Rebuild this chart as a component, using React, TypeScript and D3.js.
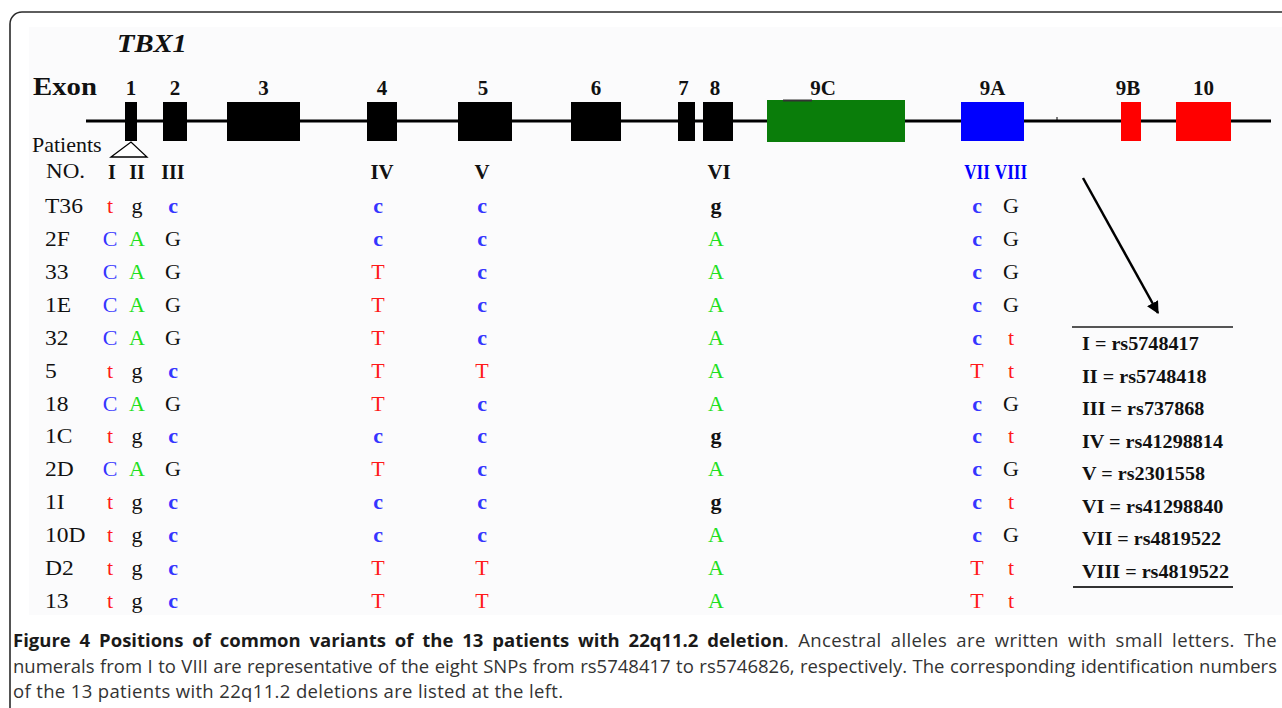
import React, { useEffect, useRef } from "react";
import * as d3 from "d3";

// patients and their alleles at the eight SNPs (I..VIII)
const patients = ["T36", "2F", "33", "1E", "32", "5", "18", "1C", "2D", "1I", "10D", "D2", "13"];
const alleles = [
  ["t", "g", "c", "c", "c", "g", "c", "G"],
  ["C", "A", "G", "c", "c", "A", "c", "G"],
  ["C", "A", "G", "T", "c", "A", "c", "G"],
  ["C", "A", "G", "T", "c", "A", "c", "G"],
  ["C", "A", "G", "T", "c", "A", "c", "t"],
  ["t", "g", "c", "T", "T", "A", "T", "t"],
  ["C", "A", "G", "T", "c", "A", "c", "G"],
  ["t", "g", "c", "c", "c", "g", "c", "t"],
  ["C", "A", "G", "T", "c", "A", "c", "G"],
  ["t", "g", "c", "c", "c", "g", "c", "t"],
  ["t", "g", "c", "c", "c", "A", "c", "G"],
  ["t", "g", "c", "T", "T", "A", "T", "t"],
  ["t", "g", "c", "T", "T", "A", "T", "t"],
];
const snps = ["I", "II", "III", "IV", "V", "VI", "VII", "VIII"];
const snpPos = [24, 51, 87, 292, 396, 630, 891, 925]; // position along gene (relative units)
const rsIds = ["rs5748417", "rs5748418", "rs737868", "rs41298814", "rs2301558", "rs41298840", "rs4819522", "rs4819522"];

// exons along the gene (relative units)
const exonNames = ["1", "2", "3", "4", "5", "6", "7", "8", "9C", "9A", "9B", "10"];
const exonStart = [39, 77, 141, 281, 372, 485, 592, 617, 681, 875, 1035, 1090];
const exonEnd = [51, 101, 214, 311, 426, 535, 609, 647, 819, 938, 1055, 1145];
const exonType = ["coding", "coding", "coding", "coding", "coding", "coding", "coding", "coding", "9C", "9A", "9B", "10"];
const geneLength = 1185;

const captionBold = "Figure 4 Positions of common variants of the 13 patients with 22q11.2 deletion";
const captionLines = [
  ". Ancestral alleles are written with small letters. The",
  "numerals from I to VIII are representative of the eight SNPs from rs5748417 to rs5746826, respectively. The corresponding identification numbers",
  "of the 13 patients with 22q11.2 deletions are listed at the left.",
];

const SERIF = "'Liberation Serif', 'Times New Roman', serif";
const SANS = "'Open Sans', 'Noto Sans', sans-serif";

const exonColor = (t: string) =>
  t === "9C" ? "#0a7d0a" : t === "9A" ? "#0000ff" : t === "9B" || t === "10" ? "#ff0000" : "#000";

const baseColor = (b: string) => {
  const u = b.toUpperCase();
  if (u === "T") return "#ff1a1a";
  if (u === "C") return "#3535ff";
  if (u === "A") return "#1fe01f";
  return "#111";
};

export default function App() {
  const ref = useRef<SVGSVGElement | null>(null);
  const W = 1282;
  const H = 708;

  useEffect(() => {
    const svg = d3.select(ref.current);
    svg.selectAll("*").remove();

    // outer frame + figure background
    svg.append("rect").attr("x", 0).attr("y", 0).attr("width", W).attr("height", H).attr("fill", "#fff");
    svg
      .append("rect")
      .attr("x", 10)
      .attr("y", 12)
      .attr("width", W + 20)
      .attr("height", H + 20)
      .attr("rx", 12)
      .attr("fill", "#fff")
      .attr("stroke", "#2a2a2a")
      .attr("stroke-width", 1.6);
    svg.append("rect").attr("x", 29).attr("y", 27).attr("width", W - 29).attr("height", 588).attr("fill", "#fbfbfc");

    const x = d3.scaleLinear().domain([0, geneLength]).range([86, 1271]);
    const y = d3.scalePoint<string>().domain(patients).range([213, 608]);
    const ly = d3.scalePoint<string>().domain(snps).range([350, 578]);

    // helper: text with horizontal stretch
    const txt = (
      tx: number,
      ty: number,
      s: string,
      size: number,
      opts: { weight?: string; style?: string; fill?: string; anchor?: string; sx?: number; family?: string } = {}
    ) =>
      svg
        .append("text")
        .attr("transform", `translate(${tx},${ty}) scale(${opts.sx ?? 1},1)`)
        .attr("font-family", opts.family ?? SERIF)
        .attr("font-size", size)
        .attr("font-weight", opts.weight ?? "normal")
        .attr("font-style", opts.style ?? "normal")
        .attr("fill", opts.fill ?? "#111")
        .attr("text-anchor", opts.anchor ?? "start")
        .text(s);

    txt(117, 52, "TBX1", 26, { weight: "bold", style: "italic", sx: 1.1 });
    txt(33, 95, "Exon", 25, { weight: "bold", sx: 1.15 });

    // gene backbone
    svg.append("line").attr("x1", x(0)).attr("x2", x(geneLength)).attr("y1", 121).attr("y2", 121).attr("stroke", "#000").attr("stroke-width", 3);
    svg.append("line").attr("x1", 1057).attr("x2", 1057).attr("y1", 117).attr("y2", 121).attr("stroke", "#000").attr("stroke-width", 1);

    // exons
    const labelShift: Record<string, number> = { "9C": -13, "7": -3, "8": -3, "9B": -3, "5": -2 };
    exonNames.forEach((name, i) => {
      const big = exonType[i] === "9C";
      svg
        .append("rect")
        .attr("x", x(exonStart[i]))
        .attr("y", big ? 100 : 102)
        .attr("width", x(exonEnd[i]) - x(exonStart[i]))
        .attr("height", big ? 42 : 39)
        .attr("fill", exonColor(exonType[i]));
      txt((x(exonStart[i]) + x(exonEnd[i])) / 2 + (labelShift[name] ?? 0), 95, name, 20, {
        weight: "bold",
        anchor: "middle",
        sx: 1.05,
      });
    });
    // small dark mark on top of 9C
    svg.append("line").attr("x1", 783).attr("x2", 812).attr("y1", 100.5).attr("y2", 100.5).attr("stroke", "#333").attr("stroke-width", 2);

    // triangle splitting exon 1 into SNP I and II
    const tri = d3.line()([
      [x(snpPos[0]) + 1, 157],
      [x(45), 142],
      [x(snpPos[1]) + 10, 157],
    ]);
    svg.append("path").attr("d", tri + "Z").attr("fill", "#fff").attr("stroke", "#000").attr("stroke-width", 1.3);

    txt(32, 152, "Patients", 22);
    txt(46, 178, "NO.", 22, { sx: 1.05 });

    // SNP column headers
    snps.forEach((s, i) => {
      const blue = i >= 6;
      const shift = i === 0 ? 2 : i === 3 ? 4 : i === 5 ? 3 : 0;
      txt(x(snpPos[i]) + shift, 179, s, i < 3 ? 21 : 22, {
        weight: "bold",
        anchor: "middle",
        fill: blue ? "#0000ff" : "#111",
        sx: blue ? 0.78 : 0.95,
      });
    });

    // patient rows
    patients.forEach((p, r) => {
      txt(45, y(p)!, p, 22, { sx: 1.07 });
      alleles[r].forEach((b, c) => {
        const bold = b === "c" || (b === "g" && c === 5);
        txt(x(snpPos[c]), y(p)!, b, 22, { anchor: "middle", fill: baseColor(b), weight: bold ? "bold" : "normal" });
      });
    });

    // arrow toward legend
    svg
      .append("defs")
      .append("marker")
      .attr("id", "ah")
      .attr("viewBox", "0 0 10 10")
      .attr("refX", 9)
      .attr("refY", 5)
      .attr("markerWidth", 5)
      .attr("markerHeight", 5)
      .attr("orient", "auto")
      .append("path")
      .attr("d", "M0,0 L10,5 L0,10 Z")
      .attr("fill", "#000");
    svg
      .append("line")
      .attr("x1", 1083)
      .attr("y1", 178)
      .attr("x2", 1158)
      .attr("y2", 313)
      .attr("stroke", "#000")
      .attr("stroke-width", 2.5)
      .attr("marker-end", "url(#ah)");

    // legend
    svg.append("line").attr("x1", 1072).attr("x2", 1233).attr("y1", 327).attr("y2", 327).attr("stroke", "#555").attr("stroke-width", 2);
    svg.append("line").attr("x1", 1073).attr("x2", 1233).attr("y1", 587).attr("y2", 587).attr("stroke", "#333").attr("stroke-width", 2);
    snps.forEach((s, i) => {
      txt(1082, ly(s)!, `${s} = ${rsIds[i]}`, 18, { weight: "bold", sx: 1.12 });
    });

    // caption, justified lines
    const capX = 13;
    const capR = 1277;
    const capY = [647, 673, 698];
    const capSize = 18.5;
    const ls = 0.35;
    const capText = (yy: number) =>
      svg
        .append("text")
        .attr("x", capX)
        .attr("y", yy)
        .attr("font-family", SANS)
        .attr("font-size", capSize)
        .attr("fill", "#333");
    const l1 = capText(capY[0]);
    l1.append("tspan").attr("font-weight", "bold").attr("fill", "#1a1a1a").text(captionBold);
    l1.append("tspan").attr("letter-spacing", ls).text(captionLines[0]);
    const l2 = capText(capY[1]).attr("letter-spacing", ls).text(captionLines[1]);
    capText(capY[2]).attr("letter-spacing", ls).text(captionLines[2]);

    const justify = (sel: any, s: string) => {
      const node = sel.node() as SVGTextElement;
      const spaces = s.split(" ").length - 1;
      let w = node.getComputedTextLength();
      if (w > capR - capX) {
        sel.attr("letter-spacing", 0);
        w = node.getComputedTextLength();
      }
      const extra = (capR - capX - w) / spaces;
      if (extra > 0) sel.attr("word-spacing", extra);
      else sel.attr("textLength", capR - capX).attr("lengthAdjust", "spacingAndGlyphs");
    };
    justify(l1, captionBold + captionLines[0]);
    justify(l2, captionLines[1]);
  }, []);

  return (
    <svg
      ref={ref}
      width={W}
      height={H}
      style={{ position: "absolute", left: 0, top: 0, display: "block", background: "#fff" }}
    />
  );
}
